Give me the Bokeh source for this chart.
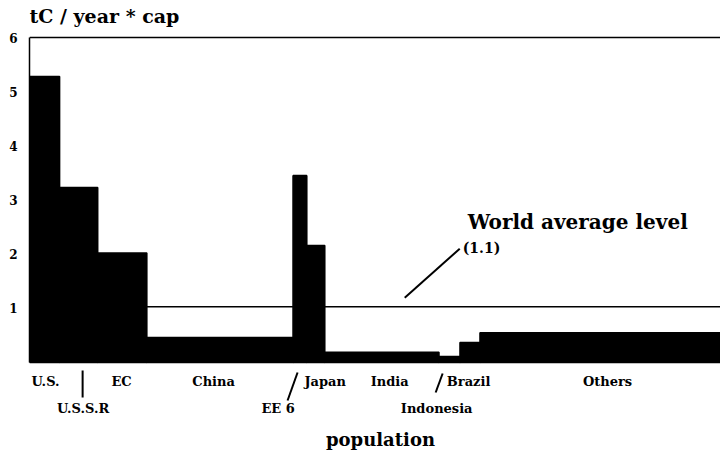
from bokeh.plotting import figure
from bokeh.models import Range1d, FixedTicker, Span, ColumnDataSource, LinearAxis
from bokeh.core.properties import value
from bokeh.embed import file_html
from bokeh.resources import INLINE
import numpy as np

# ---- data ----
regions = ["U.S.", "U.S.S.R", "EC", "China", "EE 6", "Japan", "India",
           "Indonesia", "Brazil", "Others"]
population = [224, 284, 366, 1090, 102, 134, 851, 157, 149, 1792]      # millions
emissions = [5.28, 3.23, 2.02, 0.46, 3.45, 2.16, 0.19, 0.11, 0.37, 0.55]  # tC / year * cap
label_row = [1, 2, 1, 1, 2, 1, 1, 2, 1, 1]
y_ticks = [1, 2, 3, 4, 5, 6]
world_avg = 1.03
world_avg_text = "(1.1)"

FONT = value("DejaVu Serif")

# ---- geometry ----
W, H = 720, 452
LEFT = 29
TOP6 = 37          # pixel row of y = 6
BASE = 362         # pixel row of y = 0
frame_w = W - LEFT
total = float(sum(population))
ppx = frame_w / total
ppy = (BASE - TOP6) / 6.0
y_hi = 6 + TOP6 / ppy
y_lo = -(H - BASE) / ppy

right = np.cumsum(population)
left = right - np.array(population)
center = (left + right) / 2

src = ColumnDataSource(dict(left=left, right=right, top=emissions,
                            bottom=[0] * len(regions)))

p = figure(width=W, height=H, output_backend="svg", toolbar_location=None,
           x_axis_type=None, y_axis_type=None,
           x_range=Range1d(0, total), y_range=Range1d(y_lo, y_hi),
           min_border_left=LEFT, min_border_right=0, min_border_top=0,
           min_border_bottom=0)
p.outline_line_color = None
p.background_fill_color = "white"

yax = LinearAxis(ticker=FixedTicker(ticks=y_ticks), bounds=(0, 6))
yax.axis_line_width = 1.5
yax.axis_line_color = "black"
yax.major_tick_line_color = None
yax.minor_tick_line_color = None
yax.major_label_text_font = "DejaVu Serif"
yax.major_label_text_font_style = "bold"
yax.major_label_text_font_size = "12px"
yax.major_label_text_color = "black"
yax.major_label_standoff = 6
p.add_layout(yax, "left")

# top border and world average level
p.add_layout(Span(location=y_ticks[-1], dimension="width", line_color="black", line_width=1.5))
p.add_layout(Span(location=world_avg, dimension="width", line_color="black", line_width=1.5))

p.quad(left="left", right="right", top="top", bottom="bottom", source=src,
       fill_color="black", line_color="black", line_width=1.6)

# category labels under the bars
x_off = [1, 4.5, -0.7, -6.3, -21.8, 9.4, 7.8, -12.8, -1.4, 7.3]
row_y = {1: -19 / ppy, 2: -46 / ppy}
lab = ColumnDataSource(dict(x=center, y=[row_y[r] for r in label_row],
                            text=regions, xo=x_off))
p.text(x="x", y="y", text="text", x_offset="xo", source=lab,
       text_font=FONT, text_font_style="bold",
       text_font_size="13px", text_align="center", text_baseline="middle",
       text_color="black")

# leader marks
seg_x0 = [center[1] + 4 / ppx, left[4] - 5.5 / ppx, left[7] - 3.3 / ppx]
seg_x1 = [center[1] + 4 / ppx, left[4] + 4.5 / ppx, left[7] + 3.7 / ppx]
seg_y0 = [-8 / ppy, -38 / ppy, -30 / ppy]
seg_y1 = [-35 / ppy, -10 / ppy, -11 / ppy]
p.segment(x0=seg_x0, y0=seg_y0, x1=seg_x1, y1=seg_y1, line_color="black", line_width=2)

# x axis title
p.text(x=[(380 - LEFT) / ppx], y=[-77 / ppy], text=["population"],
       text_font=FONT, text_font_style="bold", text_font_size="18px",
       text_align="center", text_baseline="middle", text_color="black")

# y axis title
p.text(x=[0], y=[y_ticks[-1] + 22 / ppy], text=["tC / year * cap"],
       text_font=FONT, text_font_style="bold",
       text_font_size="19px", text_align="left", text_baseline="middle",
       text_color="black")

# world average annotation
ax0 = left[6] + 80 / ppx
p.segment(x0=[ax0], y0=[world_avg + 9 / ppy], x1=[ax0 + 55 / ppx],
          y1=[world_avg + 58 / ppy], line_color="black", line_width=2)
p.text(x=[ax0 + 63 / ppx], y=[world_avg + 85 / ppy], text=["World average level"],
       text_font=FONT, text_font_style="bold",
       text_font_size="20px", text_align="left", text_baseline="middle",
       text_color="black")
p.text(x=[ax0 + 58 / ppx], y=[world_avg + 59 / ppy], text=[world_avg_text],
       text_font=FONT, text_font_style="bold",
       text_font_size="14px", text_align="left", text_baseline="middle",
       text_color="black")

open("out.html", "w").write(file_html(p, INLINE))
